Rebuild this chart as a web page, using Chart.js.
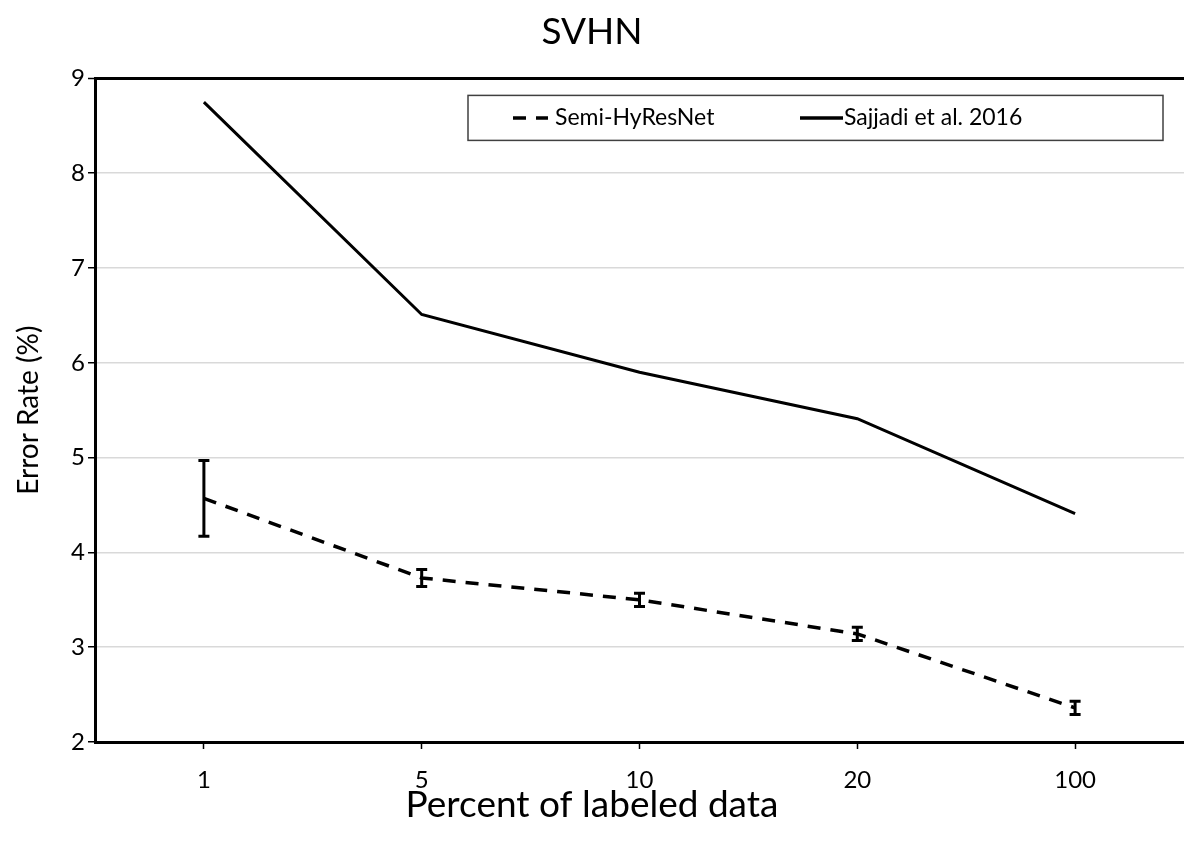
<!DOCTYPE html>
<html>
<head>
<meta charset="utf-8">
<title>SVHN</title>
<script src="https://cdn.jsdelivr.net/npm/chart.js@4.4.1/dist/chart.umd.min.js"></script>
<style>
  html, body { margin: 0; padding: 0; background: #fff; }
  #wrap { width: 1184px; height: 843px; }
</style>
</head>
<body>
<div id="wrap"><canvas id="svhn-chart"></canvas></div>
<script>
const percentLabels = ["1", "5", "10", "20", "100"];
const semiHyResNet = [4.57, 3.73, 3.50, 3.14, 2.36];
const semiHyResNetErr = [0.40, 0.09, 0.07, 0.07, 0.07];
const sajjadi2016 = [8.75, 6.51, 5.90, 5.41, 4.41];

const FONT = "Lato, 'Open Sans', sans-serif";
const xTitle = "Percent of labeled data";

// vertical error bars with caps for the first dataset
const errorBars = {
  id: "errorBars",
  afterDatasetsDraw(chart) {
    const { ctx, scales: { x, y } } = chart;
    ctx.save();
    ctx.strokeStyle = "#000";
    ctx.lineWidth = 3;
    semiHyResNet.forEach((v, i) => {
      const px = x.getPixelForValue(i);
      const top = y.getPixelForValue(v + semiHyResNetErr[i]);
      const bot = y.getPixelForValue(v - semiHyResNetErr[i]);
      ctx.beginPath();
      ctx.moveTo(px, top);
      ctx.lineTo(px, bot);
      ctx.moveTo(px - 5.5, top);
      ctx.lineTo(px + 5.5, top);
      ctx.moveTo(px - 5.5, bot);
      ctx.lineTo(px + 5.5, bot);
      ctx.stroke();
    });
    ctx.restore();
  },
};

// boxed legend inside the plot, top right, plus the x title centred on the canvas
const boxLegend = {
  id: "boxLegend",
  afterDraw(chart) {
    const { ctx, chartArea } = chart;
    const w = 695, h = 45;
    const left = chartArea.right - 21 - w;
    const top = chartArea.top + 17;
    const cy = top + h / 2;
    ctx.save();
    ctx.fillStyle = "#fff";
    ctx.fillRect(left, top, w, h);
    ctx.strokeStyle = "#404040";
    ctx.lineWidth = 1.5;
    ctx.strokeRect(left, top, w, h);

    const items = [
      { ds: chart.data.datasets[0], x0: left + 45, x1: left + 80, tx: left + 87 },
      { ds: chart.data.datasets[1], x0: left + 332, x1: left + 375, tx: left + 376 },
    ];
    ctx.font = "23px " + FONT;
    ctx.textBaseline = "middle";
    ctx.fillStyle = "#000";
    items.forEach((it) => {
      ctx.beginPath();
      ctx.setLineDash(it.ds.borderDash || []);
      ctx.strokeStyle = "#000";
      ctx.lineWidth = 3.5;
      ctx.moveTo(it.x0, cy);
      ctx.lineTo(it.x1, cy);
      ctx.stroke();
      ctx.setLineDash([]);
      ctx.fillText(it.ds.label, it.tx, cy);
    });

    ctx.font = "37px " + FONT;
    ctx.textAlign = "center";
    ctx.fillText(xTitle, chart.width / 2, chartArea.bottom + 63);
    ctx.restore();
  },
};

const chart = new Chart(document.querySelector("#svhn-chart"), {
  type: "line",
  data: {
    labels: percentLabels,
    datasets: [
      {
        label: "Semi-HyResNet",
        data: semiHyResNet,
        borderColor: "#000",
        borderWidth: 3.5,
        borderDash: [13, 10],
        pointRadius: 0,
        fill: false,
        tension: 0,
      },
      {
        label: "Sajjadi et al. 2016",
        data: sajjadi2016,
        borderColor: "#000",
        borderWidth: 3,
        pointRadius: 0,
        fill: false,
        tension: 0,
      },
    ],
  },
  options: {
    responsive: true,
    maintainAspectRatio: false,
    animation: false,
    layout: { padding: 0 },
    plugins: {
      legend: { display: false },
      tooltip: { enabled: false },
      title: {
        display: true,
        text: "SVHN",
        color: "#000",
        font: { family: FONT, size: 37, weight: "normal" },
        padding: { top: 10, bottom: 24 },
      },
    },
    scales: {
      x: {
        offset: true,
        afterFit(scale) { scale.height = 101; },
        border: { display: true, color: "#000", width: 3 },
        grid: {
          drawOnChartArea: false,
          drawTicks: true,
          tickLength: 7,
          tickColor: "#000",
          tickWidth: 1.5,
        },
        ticks: {
          color: "#000",
          padding: 17,
          font: { family: FONT, size: 24 },
        },
      },
      y: {
        min: 2,
        max: 9,
        afterFit(scale) { scale.width = 95; },
        border: { display: true, color: "#000", width: 3 },
        grid: {
          color: (c) => (c.tick && c.tick.value === 9 ? "#000" : "#d9d9d9"),
          lineWidth: (c) => (c.tick && c.tick.value === 9 ? 3 : 1.5),
          tickLength: 7,
          tickColor: "#000",
          tickWidth: 1.5,
        },
        ticks: {
          stepSize: 1,
          color: "#000",
          padding: 3,
          font: { family: FONT, size: 24 },
        },
        title: {
          display: true,
          text: "Error Rate (%)",
          color: "#000",
          font: { family: FONT, size: 28 },
          padding: { top: 12, bottom: 0 },
        },
      },
    },
  },
  plugins: [errorBars, boxLegend],
});
</script>
</body>
</html>
